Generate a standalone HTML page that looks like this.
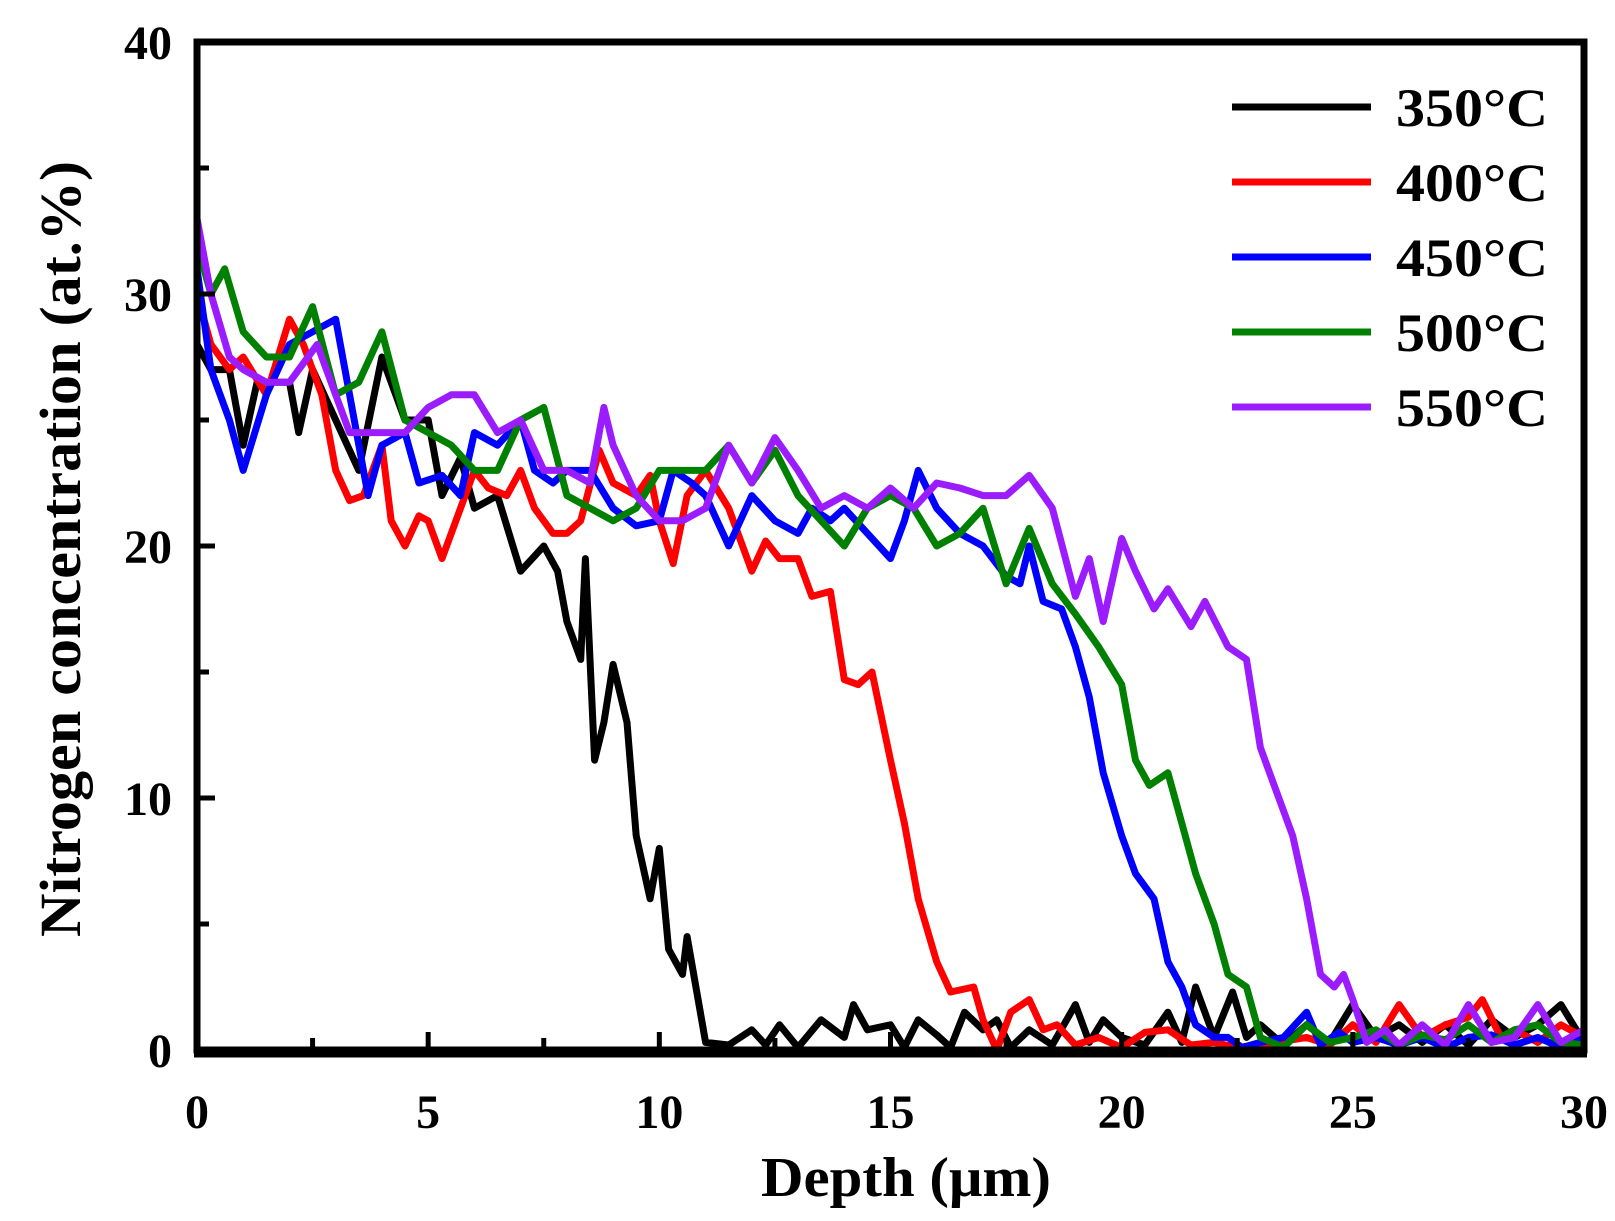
<!DOCTYPE html>
<html><head><meta charset="utf-8"><style>
body{margin:0;background:#fff}
svg{display:block}
text{font-family:"Liberation Serif",serif;font-weight:bold;fill:#000}
</style></head><body>
<svg id="c" width="1615" height="1221"></svg>
<script>
const xTicks=[0,5,10,15,20,25,30];
const yTicks=[0,10,20,30,40];
const seriesNames=["350°C","400°C","450°C","500°C","550°C"];
const seriesColors=["#000","#f00","#00f","#008000","#9b1cff"];
const s350=[[0,28],[0.3,27],[0.7,27],[1,24],[1.3,26.5],[2,26.5],[2.2,24.5],[2.5,27],[3,25],[3.5,23],[4,27.5],[4.5,25],[5,25],[5.3,22],[5.7,23.5],[6,21.5],[6.5,22],[7,19],[7.5,20],[7.8,19],[8,17],[8.3,15.5],[8.4,19.5],[8.6,11.5],[8.8,13],[9,15.3],[9.3,13],[9.5,8.5],[9.8,6],[10,8],[10.2,4],[10.5,3],[10.6,4.5],[11,0.3],[11.5,0.2],[12,0.8],[12.3,0.2],[12.6,1],[13,0.1],[13.5,1.2],[14,0.5],[14.2,1.8],[14.5,0.8],[15,1],[15.3,0.1],[15.6,1.2],[16,0.6],[16.3,0.1],[16.6,1.5],[17,0.8],[17.3,1.2],[17.6,0.1],[18,0.8],[18.5,0.2],[19,1.8],[19.3,0.3],[19.6,1.2],[20,0.5],[20.5,0.2],[21,1.5],[21.3,0.3],[21.6,2.5],[22,0.5],[22.4,2.3],[22.7,0.5],[23,1],[23.5,0.2],[24,1],[24.5,0.3],[25,1.8],[25.5,0.5],[26,1],[26.5,0.3],[27,1],[27.5,0.2],[28,1.2],[28.5,0.5],[29,1],[29.5,1.8],[30,0.3]];
const s400=[[0,30],[0.3,28],[0.7,27],[1,27.5],[1.5,26],[2,29],[2.3,28],[2.7,26],[3,23],[3.3,21.8],[3.6,22],[4,24],[4.2,21],[4.5,20],[4.8,21.2],[5,21],[5.3,19.5],[5.6,21],[6,23],[6.3,22.3],[6.7,22],[7,23],[7.3,21.5],[7.7,20.5],[8,20.5],[8.3,21],[8.7,23.8],[9,22.5],[9.5,22],[9.8,22.8],[10,21],[10.3,19.3],[10.6,22],[11,23],[11.5,21.5],[12,19],[12.3,20.2],[12.6,19.5],[13,19.5],[13.3,18],[13.7,18.2],[14,14.7],[14.3,14.5],[14.6,15],[15,11.5],[15.3,9],[15.6,6],[16,3.5],[16.3,2.3],[16.8,2.5],[17,1.2],[17.3,0],[17.6,1.5],[18,2],[18.3,0.8],[18.6,1],[19,0.2],[19.5,0.5],[20,0.1],[20.5,0.7],[21,0.8],[21.5,0.2],[22,0.3],[22.5,0.1],[23,0.2],[24,0.5],[24.5,0.2],[25,1],[25.5,0.3],[26,1.8],[26.5,0.5],[27,1],[27.5,1.3],[27.8,2],[28.2,0.5],[28.5,0.8],[29,0.3],[29.5,1],[30,0.5]];
const s450=[[0,31],[0.3,27],[0.7,25],[1,23],[1.5,26],[2,28],[2.5,28.5],[3,29],[3.3,26],[3.7,22],[4,24],[4.5,24.5],[4.8,22.5],[5.3,22.8],[5.7,22],[6,24.5],[6.5,24],[7,25],[7.3,23],[7.7,22.5],[8,23],[8.5,23],[9,21.5],[9.5,20.8],[10,21],[10.3,23],[10.7,22.5],[11,22],[11.5,20],[12,22],[12.5,21],[13,20.5],[13.3,21.5],[13.7,21],[14,21.5],[14.5,20.5],[15,19.5],[15.3,21],[15.6,23],[16,21.5],[16.5,20.5],[17,20],[17.5,18.8],[17.8,18.5],[18,20],[18.3,17.8],[18.7,17.5],[19,16],[19.3,14],[19.6,11],[20,8.5],[20.3,7],[20.7,6],[21,3.5],[21.3,2.5],[21.6,1],[22,0.5],[22.3,0.5],[22.6,0.1],[23,0.3],[23.5,0.5],[24,1.5],[24.3,0.2],[24.7,0.7],[25,0.3],[25.5,0.5],[26,0.2],[26.5,0.5],[27,0.1],[27.5,0.5],[28,0.6],[28.5,0.2],[29,0.5],[29.5,0.1],[30,0.5]];
const s500=[[0,32],[0.3,30],[0.6,31],[1,28.5],[1.5,27.5],[2,27.5],[2.5,29.5],[3,26],[3.5,26.5],[4,28.5],[4.5,25],[5,24.5],[5.5,24],[6,23],[6.5,23],[7,25],[7.5,25.5],[8,22],[8.5,21.5],[9,21],[9.5,21.5],[10,23],[10.5,23],[11,23],[11.5,24],[12,22.5],[12.5,23.8],[13,22],[13.5,21],[14,20],[14.5,21.5],[15,22],[15.5,21.5],[16,20],[16.5,20.5],[17,21.5],[17.5,18.5],[18,20.7],[18.5,18.5],[19,17.3],[19.5,16],[20,14.5],[20.3,11.5],[20.6,10.5],[21,11],[21.3,9],[21.6,7],[22,5],[22.3,3],[22.7,2.5],[23,0.5],[23.5,0.1],[24,1],[24.5,0.3],[25,0.5],[25.5,0.8],[26,0.2],[26.5,0.6],[27,0.4],[27.5,1],[28,0.3],[28.5,0.8],[29,1],[29.5,0.3],[30,0.2]];
const s550=[[0,33],[0.3,30],[0.7,27.5],[1,27],[1.5,26.5],[2,26.5],[2.4,27.5],[2.6,28],[3,26],[3.3,24.5],[3.7,24.5],[4,24.5],[4.5,24.5],[5,25.5],[5.5,26],[6,26],[6.5,24.5],[7,25],[7.5,23],[8,23],[8.5,22.5],[8.8,25.5],[9,24],[9.5,22],[10,21],[10.5,21],[11,21.5],[11.5,24],[12,22.5],[12.5,24.3],[13,23],[13.5,21.5],[14,22],[14.5,21.5],[15,22.3],[15.5,21.5],[16,22.5],[16.5,22.3],[17,22],[17.5,22],[18,22.8],[18.5,21.5],[19,18],[19.3,19.5],[19.6,17],[20,20.3],[20.3,19],[20.7,17.5],[21,18.3],[21.5,16.8],[21.8,17.8],[22.3,16],[22.7,15.5],[23,12],[23.3,10.5],[23.7,8.5],[24,6],[24.3,3],[24.6,2.5],[24.8,3],[25,2],[25.3,0.3],[25.7,0.8],[26,0.2],[26.5,1],[27,0.2],[27.5,1.8],[28,0.3],[28.5,0.5],[29,1.8],[29.5,0.3],[30,0.8]];
const seriesData=[s350,s400,s450,s500,s550];

const svg=document.getElementById('c');const NS='http://www.w3.org/2000/svg';
const L=197,R=1584,T=42,B=1050;
const X=v=>L+(v-0)/30*(R-L);
const Y=v=>B-(v-0)/40*(B-T);
function mk(tag,attrs,txt){const e=document.createElementNS(NS,tag);for(const k in attrs)e.setAttribute(k,attrs[k]);if(txt!==undefined)e.textContent=txt;svg.appendChild(e);return e;}
seriesData.forEach((d,i)=>{
  const p=mk('polyline',{points:d.map(q=>X(q[0]).toFixed(1)+','+Y(q[1]).toFixed(1)).join(' '),fill:'none',stroke:seriesColors[i],'stroke-width':7,'stroke-linejoin':'round'});
  
  
});
const fr=mk('rect',{x:L,y:T,width:R-L,height:B-T,fill:'none',stroke:'#000','stroke-width':7});


const bl=mk('line',{x1:L-3,x2:R+3,y1:B+2,y2:B+2,stroke:'#000','stroke-width':11});


xTicks.forEach((v,i)=>{
  const tk=mk('line',{x1:X(v),x2:X(v),y1:B,y2:B-18,stroke:'#000','stroke-width':5});
  
  
  if(i<xTicks.length-1){const m=mk('line',{x1:X(v+2.5),x2:X(v+2.5),y1:B,y2:B-12,stroke:'#000','stroke-width':5});
  
  }
  const t=mk('text',{x:X(v),y:1128,'text-anchor':'middle','font-size':48},String(v));
  
  
});
yTicks.forEach((v,i)=>{
  const tk=mk('line',{x1:L,x2:L+18,y1:Y(v),y2:Y(v),stroke:'#000','stroke-width':5});
  
  
  if(i<yTicks.length-1){const m=mk('line',{x1:L,x2:L+12,y1:Y(v+5),y2:Y(v+5),stroke:'#000','stroke-width':5});
  
  }
  const t=mk('text',{x:172,y:Y(v)+17,'text-anchor':'end','font-size':48},String(v));
  
  
});
const xt=mk('text',{x:906,y:1196,'text-anchor':'middle','font-size':56,textLength:290,lengthAdjust:'spacingAndGlyphs'},'Depth (μm)');


const yt=mk('text',{x:0,y:0,'text-anchor':'middle','font-size':58,textLength:776,lengthAdjust:'spacingAndGlyphs',transform:'translate(80,549) rotate(-90)'},'Nitrogen concentration (at.%)');


seriesNames.forEach((n,i)=>{
  const yy=107+i*75;
  const ln=mk('line',{x1:1232,x2:1371,y1:yy,y2:yy,stroke:seriesColors[i],'stroke-width':7});
  
  
  const t=mk('text',{x:1396,y:yy+19,'font-size':54,textLength:152,lengthAdjust:'spacingAndGlyphs'},n);
  
  
});
</script>
</body></html>
